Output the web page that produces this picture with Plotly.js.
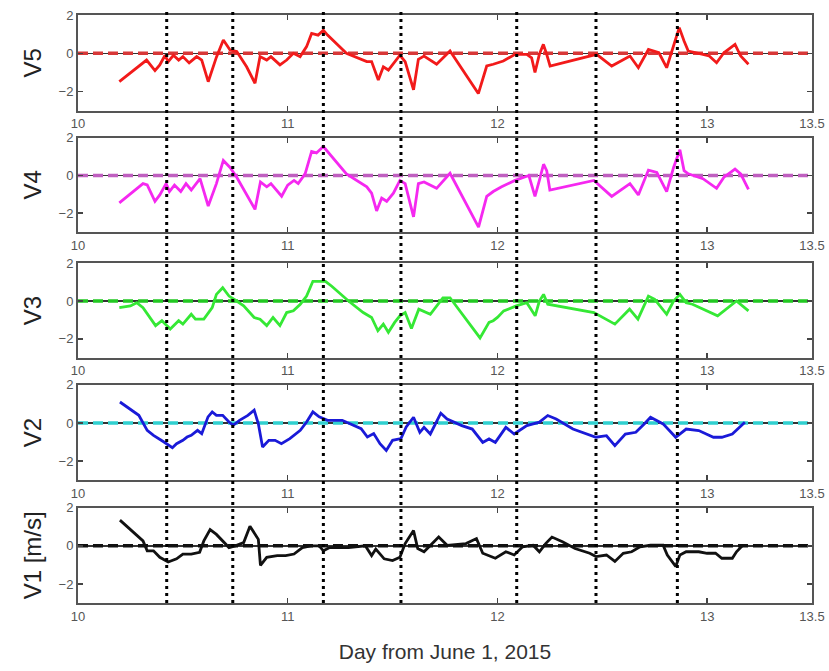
<!DOCTYPE html>
<html>
<head>
<meta charset="utf-8">
<script src="https://cdn.plot.ly/plotly-3.0.1.min.js"></script>
<style>html,body{margin:0;padding:0;background:#fff;}#chart{width:829px;height:671px;}</style>
</head>
<body>
<div id="chart"></div>
<script>
// ---- data ----
const panelNames = ["V5", "V4", "V3", "V2", "V1 [m/s]"];
const xTickVals = [10, 11, 12, 13, 13.5];
const xTickText = ["10", "11", "12", "13", "13.5"];
const yTickVals = [-2, 0, 2];
const yTickText = ["\u22122", "0", "2"];
const eventDays = [10.423, 10.738, 11.17, 11.54, 12.092, 12.47, 12.858];
const refDays = [10, 13.5];
const refLevel = [0, 0];

const dayV5 = [10.197,10.327,10.367,10.39,10.415,10.43,10.455,10.48,10.5,10.53,10.566,10.59,10.621,10.66,10.693,10.725,10.757,10.804,10.844,10.868,10.9,10.92,10.963,10.995,11.027,11.059,11.09,11.114,11.145,11.17,11.19,11.28,11.377,11.40,11.432,11.456,11.48,11.51,11.535,11.56,11.6,11.623,11.65,11.71,11.774,11.909,11.949,11.98,12.028,12.084,12.14,12.163,12.179,12.2,12.219,12.235,12.251,12.473,12.545,12.632,12.672,12.72,12.77,12.807,12.84,12.867,12.89,12.91,12.98,13.01,13.045,13.08,13.133,13.16,13.197];
const v5 = [-1.48,-0.35,-0.9,-0.6,-0.1,-0.43,-0.1,-0.35,-0.17,-0.5,-0.17,-0.35,-1.48,-0.2,0.7,0.17,0.1,-0.7,-1.56,-0.17,-0.35,-0.17,-0.6,-0.35,0,-0.17,0.35,1.04,0.95,1.2,0.95,0,-0.43,-0.43,-1.39,-0.7,-0.87,-0.43,-0.1,-0.43,-1.9,-0.31,-0.14,-0.57,0.12,-2.1,-0.66,-0.57,-0.4,-0.05,-0.05,-0.23,-1.0,-0.05,0.47,-0.05,-0.66,-0.05,-0.66,-0.14,-0.75,0.2,0.03,-0.75,0.47,1.34,0.64,0.12,-0.05,-0.14,-0.49,0.03,0.47,-0.14,-0.57];

const dayV4 = [10.197,10.263,10.31,10.33,10.367,10.39,10.42,10.436,10.46,10.49,10.515,10.54,10.582,10.621,10.66,10.693,10.725,10.757,10.804,10.844,10.87,10.9,10.92,10.971,11.0,11.03,11.05,11.083,11.114,11.137,11.17,11.19,11.28,11.377,11.40,11.424,11.448,11.472,11.504,11.535,11.56,11.6,11.623,11.65,11.71,11.774,11.91,11.949,11.98,12.02,12.084,12.15,12.179,12.2,12.22,12.235,12.25,12.46,12.545,12.632,12.672,12.72,12.76,12.807,12.84,12.87,12.89,12.91,12.98,13.045,13.08,13.133,13.16,13.197];
const v4 = [-1.45,-0.85,-0.43,-0.5,-1.37,-1.03,-0.43,-0.85,-0.51,-0.85,-0.43,-0.77,-0.17,-1.62,-0.43,0.8,0.43,-0.09,-1.03,-1.8,-0.34,-0.6,-0.43,-1.1,-0.51,-0.26,-0.43,0.09,1.28,1.2,1.54,1.28,0.09,-0.6,-0.94,-1.88,-1.2,-1.37,-0.94,-0.26,-0.43,-2.2,-0.43,-0.34,-0.68,0.12,-2.74,-1.11,-0.85,-0.6,-0.26,0,-1.11,-0.26,0.6,0.26,-0.77,-0.26,-1.11,-0.43,-1.03,0.29,0.17,-0.85,0.43,1.37,0.26,0.09,-0.17,-0.68,-0.09,0.34,0.09,-0.74];

const dayV3 = [10.197,10.25,10.28,10.31,10.37,10.4,10.44,10.48,10.5,10.54,10.56,10.6,10.64,10.66,10.69,10.72,10.757,10.79,10.84,10.868,10.9,10.93,10.963,10.995,11.027,11.06,11.09,11.12,11.15,11.18,11.21,11.29,11.36,11.40,11.43,11.456,11.48,11.51,11.535,11.56,11.59,11.625,11.68,11.74,11.774,11.917,11.96,11.98,12.0,12.03,12.09,12.14,12.18,12.2,12.22,12.24,12.46,12.56,12.63,12.67,12.72,12.75,12.807,12.84,12.87,12.9,12.93,13.05,13.14,13.197];
const v3 = [-0.35,-0.26,-0.09,-0.35,-1.3,-1.04,-1.48,-1.04,-1.22,-0.7,-0.96,-0.96,-0.35,0.35,0.7,0.26,0,-0.26,-0.87,-0.96,-1.3,-0.87,-1.3,-0.61,-0.52,-0.17,0.26,1.04,1.04,1.04,0.78,0,-0.61,-0.87,-1.57,-1.22,-1.65,-1.13,-0.78,-0.61,-1.45,-0.43,-0.7,0.17,0.17,-1.95,-1.13,-1.04,-0.87,-0.52,-0.26,-0.09,-0.78,0,0.35,-0.17,-0.61,-1.22,-0.43,-0.96,0.26,0.09,-0.7,0,0.35,-0.09,-0.17,-0.78,0,-0.52];

const dayV2 = [10.2,10.29,10.33,10.36,10.41,10.45,10.47,10.5,10.52,10.54,10.57,10.59,10.62,10.64,10.66,10.69,10.72,10.74,10.77,10.81,10.84,10.86,10.88,10.91,10.94,10.97,11.01,11.06,11.09,11.12,11.15,11.19,11.26,11.30,11.35,11.38,11.41,11.44,11.47,11.5,11.54,11.565,11.6,11.63,11.65,11.68,11.73,11.76,11.83,11.88,11.93,11.96,11.99,12.04,12.08,12.14,12.2,12.24,12.28,12.36,12.47,12.52,12.56,12.61,12.66,12.7,12.73,12.79,12.82,12.85,12.9,12.96,13.03,13.07,13.12,13.18];
const v2 = [1.1,0.4,-0.39,-0.65,-1.0,-1.3,-1.09,-0.91,-0.74,-0.65,-0.39,-0.56,0.32,0.58,0.4,0.4,0.05,-0.12,0.14,0.4,0.67,-0.04,-1.26,-0.91,-0.91,-1.09,-0.82,-0.39,0.05,0.58,0.32,0.14,0.14,-0.04,-0.3,-0.74,-0.56,-1.09,-1.44,-0.91,-0.82,-0.21,0.3,-0.49,-0.23,-0.58,0.51,0.21,-0.14,-0.32,-1.02,-0.84,-1.02,-0.23,-0.58,-0.14,0.04,0.39,0.21,-0.32,-0.75,-0.67,-1.19,-0.58,-0.49,-0.05,0.3,-0.05,-0.4,-0.75,-0.32,-0.4,-0.75,-0.75,-0.58,0.04];

const dayV1 = [10.2,10.26,10.31,10.33,10.36,10.39,10.43,10.47,10.5,10.54,10.58,10.6,10.63,10.66,10.69,10.72,10.75,10.79,10.82,10.86,10.87,10.9,10.95,10.99,11.03,11.07,11.11,11.15,11.17,11.2,11.29,11.37,11.4,11.42,11.46,11.5,11.535,11.56,11.6,11.62,11.65,11.68,11.72,11.76,11.85,11.9,11.93,11.99,12.04,12.08,12.12,12.17,12.2,12.23,12.26,12.31,12.37,12.44,12.47,12.52,12.56,12.6,12.64,12.68,12.73,12.79,12.81,12.85,12.87,12.9,12.96,13.0,13.04,13.07,13.12,13.14,13.17];
const v1 = [1.35,0.77,0.26,-0.26,-0.26,-0.6,-0.85,-0.68,-0.43,-0.43,-0.34,0.26,0.85,0.6,0.26,-0.09,0,0.17,1.03,0.34,-1.03,-0.6,-0.51,-0.51,-0.43,-0.09,0,0,-0.26,-0.09,-0.09,0,-0.51,-0.17,-0.68,-0.77,-0.6,0.12,0.8,-0.14,-0.31,0.03,0.46,0.03,0.12,0.38,-0.39,-0.65,-0.31,-0.48,-0.05,0.03,-0.31,0.12,0.46,0.21,-0.14,-0.39,-0.56,-0.48,-0.82,-0.39,-0.31,-0.05,0.03,0.03,-0.48,-1.08,-0.48,-0.31,-0.31,-0.39,-0.39,-0.65,-0.65,-0.31,0.03];

const seriesDays = [dayV5, dayV4, dayV3, dayV2, dayV1];
const seriesVals = [v5, v4, v3, v2, v1];
const lineColors = ["#f21a1a", "#f528f0", "#35e835", "#1a1ad8", "#111111"];
const refColors = ["#d83838", "#c060c0", "#22c822", "#30d0d0", "#111111"];

// ---- layout ----
const domains = [[0.837, 1.0], [0.631, 0.791], [0.417, 0.578], [0.209, 0.371], [0.0, 0.162]];
const font = "'Liberation Sans', Arial, sans-serif";
const traces = [];
const layout = {
  width: 829, height: 671,
  margin: {l: 78, r: 17, t: 15, b: 68},
  paper_bgcolor: "#fff", plot_bgcolor: "#fff",
  showlegend: false,
  font: {family: font, color: "#333"},
  shapes: []
};

for (let i = 0; i < 5; i++) {
  const n = i === 0 ? "" : String(i + 1);
  const xa = "x" + n, ya = "y" + n;
  traces.push({
    x: refDays, y: refLevel, xaxis: xa, yaxis: ya, mode: "lines",
    line: {color: refColors[i], width: 3.5, dash: "10px,5px"}, hoverinfo: "skip"
  });
  traces.push({
    x: seriesDays[i], y: seriesVals[i], xaxis: xa, yaxis: ya, mode: "lines",
    line: {color: lineColors[i], width: 2.8}
  });
  layout["xaxis" + n] = {
    domain: [0, 1], anchor: ya, range: [10, 13.5],
    tickvals: xTickVals, ticktext: xTickText,
    ticks: "inside", ticklen: 5, tickwidth: 1.5, tickcolor: "#444",
    showgrid: false, zeroline: false,
    showline: true, linecolor: "#555", linewidth: 2, mirror: "ticks",
    tickfont: {size: 13, color: "#555", family: font},
    title: i === 4 ? {text: "Day from June 1, 2015", font: {size: 21, color: "#333", family: font}, standoff: 22} : undefined
  };
  layout["yaxis" + n] = {
    domain: domains[i], anchor: xa, range: [-3, 2],
    tickvals: yTickVals, ticktext: yTickText,
    ticks: "inside", ticklen: 5, tickwidth: 1.5, tickcolor: "#444",
    showgrid: false, zeroline: true, zerolinecolor: "#333", zerolinewidth: 1.5,
    showline: true, linecolor: "#555", linewidth: 2, mirror: "ticks",
    tickfont: {size: 13, color: "#555", family: font},
    title: {text: panelNames[i], font: {size: 24, color: "#222", family: font}, standoff: 10}
  };
}

eventDays.forEach(d => {
  layout.shapes.push({
    type: "line", xref: "x", yref: "paper", x0: d, x1: d, y0: 0, y1: 1.012,
    line: {color: "#000", width: 3, dash: "3px,4px"}, layer: "above"
  });
});

Plotly.newPlot("chart", traces, layout, {staticPlot: true, displayModeBar: false});
</script>
</body>
</html>
